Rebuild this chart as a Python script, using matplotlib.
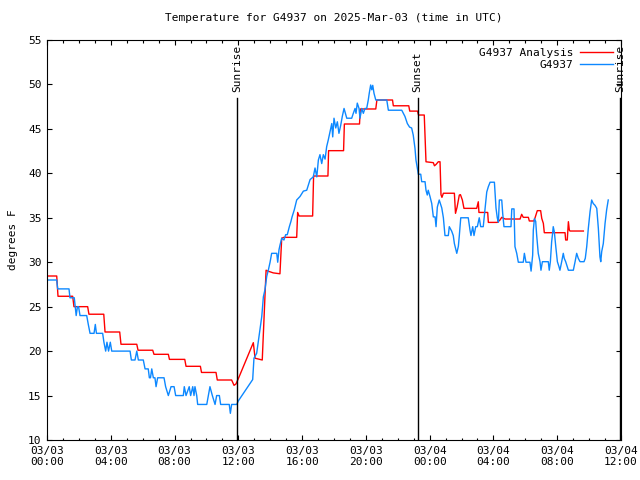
import matplotlib
matplotlib.use("Agg")
import matplotlib.pyplot as plt
from matplotlib.ticker import MultipleLocator

plt.rcParams['font.family'] = ['DejaVu Sans Mono']

# hours since 2025-03-03 00:00 UTC
analysis_h = [0.00, 0.61, 0.69, 1.61, 1.69, 2.55, 2.63, 3.56, 3.64, 4.56, 4.64, 5.63,
              5.71, 6.63, 6.71, 7.61, 7.68, 8.64, 8.72, 9.62, 9.69, 10.60, 10.68, 11.58,
              11.73, 11.85, 12.00, 12.94, 13.05, 13.50, 13.74, 13.86, 14.19, 14.61, 14.72,
              14.86, 15.66, 15.72, 15.81, 16.66, 16.72, 17.62, 17.66, 18.60, 18.65, 19.60,
              19.65, 20.62, 20.69, 21.67, 21.72, 22.69, 22.75, 23.24, 23.30, 23.66, 23.77,
              24.23, 24.30, 24.40, 24.54, 24.65, 24.71, 24.77, 24.86, 25.55, 25.62, 25.72,
              25.86, 25.93, 26.05, 26.15, 26.95, 27.05, 27.09, 27.64, 27.68, 28.24, 28.41,
              28.52, 28.73, 29.67, 29.77, 29.87, 30.19, 30.25, 30.54, 30.61, 30.75, 30.96,
              31.03, 31.13, 31.19, 32.49, 32.53, 32.63, 32.70, 32.76, 32.80, 33.64]
analysis_t = [28.45, 28.45, 26.17, 26.17, 25.0, 25.0, 24.15, 24.15, 22.15, 22.15, 20.77, 20.77,
              20.1, 20.1, 19.64, 19.64, 19.07, 19.07, 18.29, 18.29, 17.6, 17.6, 16.75, 16.75,
              16.15, 16.3, 16.9, 20.95, 19.2, 19.0, 29.1, 29.0, 28.8, 28.7, 32.7,
              32.8, 32.8, 35.6, 35.2, 35.2, 39.7, 39.7, 42.55, 42.55, 45.55, 45.55,
              47.24, 47.24, 48.25, 48.25, 47.6, 47.6, 47.0, 47.0, 46.56, 46.56, 41.3,
              41.2, 40.85, 41.0, 41.3, 41.3, 37.6, 37.3, 37.76, 37.76, 35.5, 36.2,
              37.56, 37.6, 37.0, 36.06, 36.06, 36.8, 35.6, 35.6, 34.48, 34.48, 34.75,
              35.05, 34.86, 34.86, 35.39, 35.05, 35.05, 34.64, 34.64, 35.0, 35.8, 35.8,
              34.93, 34.37, 33.32, 33.32, 32.5, 32.5, 34.56, 33.62, 33.51, 33.51]

obs_h = [0.00, 0.61, 0.67, 1.38, 1.44, 1.71, 1.77, 1.83, 1.91, 1.98, 2.07, 2.49, 2.59, 2.70,
         2.95, 3.03, 3.10, 3.49, 3.57, 3.68, 3.76, 3.86, 3.97, 4.06, 5.21, 5.29, 5.52, 5.63,
         5.73, 6.04, 6.15, 6.35, 6.42, 6.49, 6.57, 6.67, 6.77, 6.84, 6.94, 7.34, 7.44, 7.61,
         7.78, 7.97, 8.07, 8.55, 8.61, 8.72, 8.92, 9.01, 9.14, 9.22, 9.28, 9.39, 9.45, 10.02,
         10.12, 10.22, 10.37, 10.54, 10.64, 10.81, 10.89, 11.43, 11.50, 11.58, 11.90, 12.00,
         12.90, 12.98, 13.15, 13.32, 13.47, 13.57, 13.67, 13.78, 13.88, 13.99, 14.09, 14.41,
         14.47, 14.55, 14.61, 14.72, 14.86, 14.97, 15.07, 15.20, 15.30, 15.37, 15.51, 15.66,
         15.87, 16.08, 16.29, 16.50, 16.70, 16.81, 16.92, 17.02, 17.12, 17.23, 17.33, 17.44,
         17.54, 17.64, 17.75, 17.86, 17.92, 18.00, 18.11, 18.21, 18.31, 18.42, 18.52, 18.63,
         18.69, 18.80, 19.11, 19.21, 19.32, 19.38, 19.46, 19.57, 19.63, 19.74, 19.84, 19.94,
         20.05, 20.15, 20.21, 20.30, 20.37, 20.43, 20.51, 20.62, 21.31, 21.41, 22.25, 22.35,
         22.45, 22.60, 22.74, 22.87, 22.97, 23.08, 23.14, 23.23, 23.29, 23.44, 23.50, 23.71,
         23.77, 23.85, 23.91, 24.02, 24.13, 24.23, 24.34, 24.40, 24.48, 24.60, 24.76, 24.86,
         24.96, 25.17, 25.23, 25.38, 25.48, 25.55, 25.70, 25.80, 25.86, 25.95, 26.42, 26.53,
         26.59, 26.70, 26.78, 26.89, 26.99, 27.11, 27.20, 27.36, 27.47, 27.58, 27.68, 27.79,
         28.06, 28.16, 28.24, 28.31, 28.37, 28.52, 28.58, 28.66, 29.10, 29.15, 29.29, 29.35,
         29.46, 29.56, 29.87, 29.94, 30.04, 30.29, 30.36, 30.46, 30.50, 30.57, 30.65, 30.71,
         30.81, 30.92, 30.98, 31.07, 31.44, 31.50, 31.57, 31.65, 31.72, 31.75, 31.82, 31.91,
         32.01, 32.11, 32.17, 32.28, 32.38, 32.44, 32.53, 32.63, 32.70, 33.01, 33.12, 33.22,
         33.32, 33.43, 33.68, 33.76, 33.85, 33.95, 34.06, 34.16, 34.26, 34.37, 34.48, 34.58,
         34.64, 34.68, 34.73, 34.79, 34.89, 35.00, 35.10, 35.20]
obs_t = [28, 28, 27, 27, 26, 26, 25, 24, 25, 25, 24, 24, 23, 22,
         22, 23, 22, 22, 21, 20, 21, 20, 21, 20, 20, 19, 19, 20,
         19, 19, 18, 18, 17, 17, 18, 17, 17, 16, 17, 17, 16, 15,
         16, 16, 15, 15, 16, 15, 16, 15, 16, 15, 16, 15, 14, 14,
         15, 16, 15, 14, 15, 15, 14, 14, 13, 14, 14, 14.4,
         16.8, 19.2, 19.75, 22, 23.9, 26.1, 26.9, 28.4, 29.1, 30, 31, 31,
         30, 31.4, 31.9, 32.7, 32.5, 33.1, 33.1, 34, 34.6, 35.1, 35.9, 37,
         37.4, 38, 38.1, 39.3, 39.6, 40.6, 39.6, 41.5, 42.1, 41.1, 42.1, 41.6,
         43, 43.75, 44.7, 45.6, 44.1, 46.2, 45.1, 45.8, 44.5, 45.4, 46.4, 47.3,
         46.9, 46.2, 46.2, 46.75, 47.3, 46.75, 47.9, 47.3, 46.2, 47.3, 46.75, 47.3,
         47.3, 48.25, 49, 49.94, 49.4, 49.9, 49, 48.25, 48.25, 47.1, 47.1, 46.75,
         46.4, 45.6, 45.2, 45.1, 44.3, 42.8, 41.5, 40.56, 39.9, 39.9, 39.06, 39.06,
         38.1, 37.56, 38.1, 37.4, 36.6, 35.1, 35.1, 34.0, 36.2, 37.0, 36.1, 35.0,
         33.0, 33.0, 34.0, 33.5, 33.0, 32.1, 31.0, 31.8, 33.0, 35.0, 35.0, 33.6,
         33.0, 34.0, 33.0, 34.0, 34.0, 35.0, 34.0, 34.0, 36.0, 37.9, 38.5, 39.0,
         39.0, 36.1, 35.0, 34.5, 37.0, 37.0, 35.5, 34.0, 34.0, 36.0, 36.0, 31.75,
         31.0, 30.0, 30.0, 31.0, 30.0, 30.0, 29.0, 30.8, 33.6, 34.9, 34.6, 33.06,
         31.0, 30.06, 29.1, 30.06, 30.06, 29.1, 30.06, 32.3, 33.4, 34.0, 33.4, 31.75,
         30.06, 29.5, 29.1, 30.06, 31.0, 30.44, 30.06, 29.5, 29.1, 29.1, 30.06, 31.0,
         30.44, 30.06, 30.06, 30.44, 31.75, 33.8, 35.7, 37.0, 36.6, 36.4, 36.06, 33.8,
         31.75, 30.6, 30.06, 31.2, 32.1, 34.37, 35.9, 37.0]

sun_events = [(11.92, 'Sunrise'), (23.24, 'Sunset'), (35.95, 'Sunrise')]
tick_hours = [0, 4, 8, 12, 16, 20, 24, 28, 32, 36]
tick_labels = ['03/03\n00:00', '03/03\n04:00', '03/03\n08:00', '03/03\n12:00', '03/03\n16:00',
               '03/03\n20:00', '03/04\n00:00', '03/04\n04:00', '03/04\n08:00', '03/04\n12:00']

fig = plt.figure(figsize=(6.4, 4.8), dpi=100)
ax = fig.add_axes([47 / 640, 40 / 480, 574 / 640, 400 / 480])

ax.plot(analysis_h, analysis_t, color='#ff0000', lw=1.0, label='G4937 Analysis')
ax.plot(obs_h, obs_t, color='#0d88ff', lw=1.0, label='G4937')

for h, name in sun_events:
    ax.axvline(h, ymin=0, ymax=0.855, color='black', lw=1.0)
    ax.text(h, 0.87, name, rotation=90, ha='center', va='bottom', fontsize=8,
            transform=ax.get_xaxis_transform())

ax.set_xlim(0, 36)
ax.set_ylim(10, 55)
ax.set_xticks(tick_hours)
ax.set_xticklabels(tick_labels)
ax.xaxis.set_minor_locator(MultipleLocator(1))
ax.yaxis.set_major_locator(MultipleLocator(5))
ax.tick_params(which='both', direction='in', top=True, right=True, labelsize=8, width=0.8)
ax.tick_params(which='major', length=3.5, pad=4)
ax.tick_params(which='minor', length=1.8)
for s in ax.spines.values():
    s.set_linewidth(0.8)

ax.set_ylabel('degrees F', fontsize=8, labelpad=7)
ax.set_title('Temperature for G4937 on 2025-Mar-03 (time in UTC)', fontsize=8, pad=14)
ax.legend(loc='upper right', frameon=False, fontsize=8, markerfirst=False,
          handlelength=3.0, borderaxespad=0.3, labelspacing=0.2, handletextpad=0.6)

fig.savefig('out.png', dpi=100)
